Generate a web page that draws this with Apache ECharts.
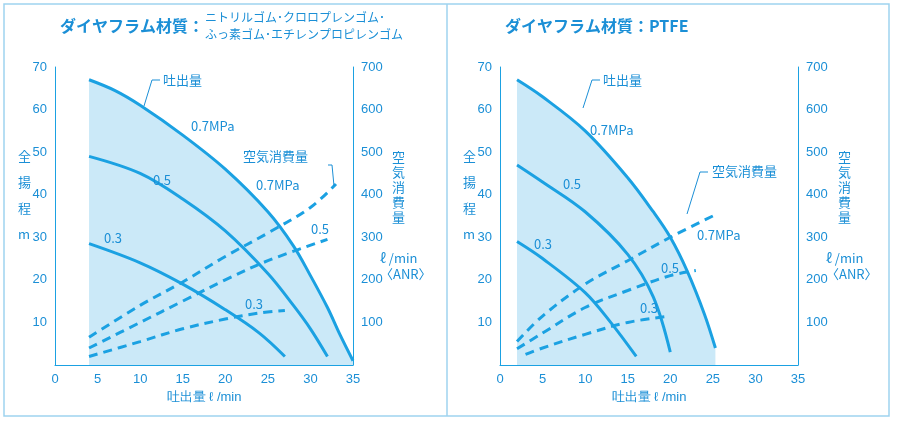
<!DOCTYPE html>
<html><head><meta charset="utf-8">
<script src="https://cdn.jsdelivr.net/npm/echarts@6/dist/echarts.min.js"></script>
<style>html,body{margin:0;background:#fff}#c{width:899px;height:430px}</style>
</head><body><div id="c"></div>
<script>
// 左: ゴム系ダイヤフラム
var L_p07 = [[4,67],[7,64.5],[10,61],[15,54],[20,46],[25,36],[28,28],[30,21],[32,13.5],[33.5,7],[35,1]];
var L_p05 = [[4,49],[10,45],[15,39],[20,31.5],[25,21.5],[28,14],[30,8.5],[32,2]];
var L_p03 = [[4,28.5],[10,24],[15,19],[20,13],[24,7.5],[27,2]];
var L_a07 = [[4,65],[10,140],[15,195],[20,255],[25,310],[30,370],[33,425]];
var L_a05 = [[4,40],[10,100],[15,150],[20,200],[25,245],[32,295]];
var L_a03 = [[4,20],[10,55],[15,85],[20,108],[24,122],[27,128]];
// 右: PTFE
var R_p07 = [[2,67],[5,63],[10,55],[15,44],[18,36],[20,30],[22,22],[24,12],[25.3,4]];
var R_p05 = [[2,47],[5,43],[10,36],[15,26],[18,16],[20,3]];
var R_p03 = [[2,29],[5,25],[10,17],[13,10],[16,2]];
var R_a07 = [[2,55],[5,115],[10,190],[15,245],[20,300],[25,350]];
var R_a05 = [[2,38],[5,75],[10,135],[15,175],[20,210],[23,222]];
var R_a03 = [[3,25],[5,40],[10,72],[15,100],[20,115]];

var C = '#1ba1e2', T = '#1b8fd6';
var chart = echarts.init(document.getElementById('c'));
var grids = [{left:55,width:298,top:67,height:298},{left:500,width:298,top:67,height:298}];
var xAxes = [], yAxes = [], series = [];
grids.forEach(function(g,i){
  xAxes.push({gridIndex:i,min:0,max:35,interval:5,axisLine:{lineStyle:{color:C}},axisTick:{show:false},
    axisLabel:{color:T,fontSize:13},splitLine:{show:false},
    name:'吐出量 ℓ /min',nameLocation:'middle',nameGap:22,nameTextStyle:{color:T,fontSize:13}});
  yAxes.push({gridIndex:i,min:0,max:70,interval:10,axisLine:{show:true,lineStyle:{color:C}},axisTick:{show:false},
    axisLabel:{color:T,fontSize:13,showMinLabel:false},splitLine:{show:false}});
  yAxes.push({gridIndex:i,position:'right',min:0,max:700,interval:100,axisLine:{show:true,lineStyle:{color:C}},axisTick:{show:false},
    axisLabel:{color:T,fontSize:13,showMinLabel:false},splitLine:{show:false}});
});
function sol(d,i,area){series.push({type:'line',xAxisIndex:i,yAxisIndex:i*2,data:d,smooth:0.35,symbol:'none',
  lineStyle:{color:C,width:3},areaStyle:area?{color:'#cbe9f8',opacity:1}:null,z:area?1:3});}
function dash(d,i){series.push({type:'line',xAxisIndex:i,yAxisIndex:i*2+1,data:d,smooth:0.35,symbol:'none',
  lineStyle:{color:C,width:3,type:[9,6]},z:3});}
[L_p07,L_p05,L_p03].forEach(function(d,k){sol(d,0,k===0);});
[L_a07,L_a05,L_a03].forEach(function(d){dash(d,0);});
[R_p07,R_p05,R_p03].forEach(function(d,k){sol(d,1,k===0);});
[R_a07,R_a05,R_a03].forEach(function(d){dash(d,1);});

function tx(x,y,s,fs,extra){var o={type:'text',left:x,top:y,z:100,style:{text:s,fill:T,font:(fs||13)+'px "Noto Sans CJK JP"',lineHeight:(fs||13)+3}};if(extra)Object.assign(o.style,extra);return o;}
var gfx = [
  {type:'rect',shape:{x:4,y:4,width:885,height:412},style:{fill:'none',stroke:'#9fd3ef',lineWidth:1.5}},
  {type:'line',shape:{x1:447,y1:4,x2:447,y2:416},style:{stroke:'#9fd3ef',lineWidth:1.5}},
  tx(60,16,'ダイヤフラム材質：',16,{font:'bold 16px "Noto Sans CJK JP"'}),
  tx(205,10,'ニトリルゴム･クロロプレンゴム･',12),
  tx(205,27,'ふっ素ゴム･エチレンプロピレンゴム',12),
  tx(505,16,'ダイヤフラム材質：PTFE',16,{font:'bold 16px "Noto Sans CJK JP"'}),
  tx(18,150,'全\n\n揚\n\n程\n\nm',13,{lineHeight:13}),
  tx(463,150,'全\n\n揚\n\n程\n\nm',13,{lineHeight:13}),
  tx(392,150,'空\n気\n消\n費\n量',13,{lineHeight:15}),
  tx(838,150,'空\n気\n消\n費\n量',13,{lineHeight:15}),
  tx(380,250,'ℓ /min\n〈ANR〉',13),
  tx(826,250,'ℓ /min\n〈ANR〉',13),
  tx(163,72,'吐出量'),tx(191,118,'0.7MPa'),tx(153,172,'0.5'),tx(104,230,'0.3'),
  tx(243,148,'空気消費量'),tx(256,177,'0.7MPa'),tx(311,221,'0.5'),tx(245,296,'0.3'),
  tx(603,72,'吐出量'),tx(590,122,'0.7MPa'),tx(563,176,'0.5'),tx(534,236,'0.3'),
  tx(712,163,'空気消費量'),tx(697,227,'0.7MPa'),tx(661,260,'0.5'),tx(640,300,'0.3'),
  {type:'polyline',z:100,shape:{points:[[160,80],[152,80],[144,106]]},style:{stroke:T,fill:'none',lineWidth:1}},
  {type:'polyline',z:100,shape:{points:[[600,80],[592,80],[583,108]]},style:{stroke:T,fill:'none',lineWidth:1}},
  {type:'polyline',z:100,shape:{points:[[328,165],[332,165],[334,186]]},style:{stroke:T,fill:'none',lineWidth:1}},
  {type:'polyline',z:100,shape:{points:[[708,172],[700,172],[687,214]]},style:{stroke:T,fill:'none',lineWidth:1}}
];
chart.setOption({animation:false,grid:grids,xAxis:xAxes,yAxis:yAxes,series:series,graphic:gfx});
</script></body></html>
